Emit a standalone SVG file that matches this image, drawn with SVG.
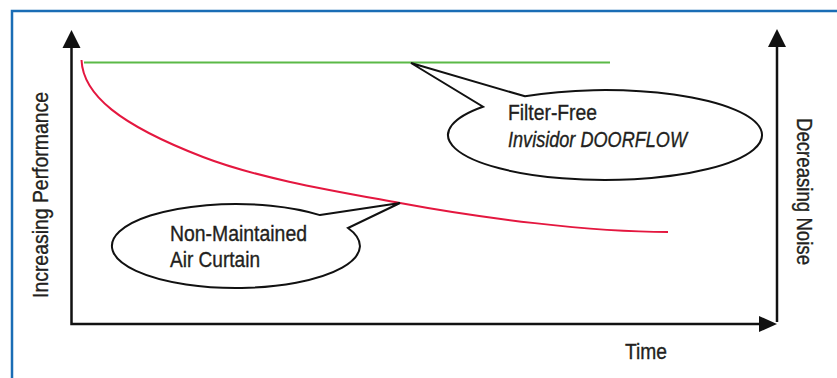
<svg xmlns="http://www.w3.org/2000/svg" width="837" height="378" viewBox="0 0 837 378">
<style>
.axis{stroke:#111;stroke-width:2.5;fill:none}
.head{fill:#111;stroke:none}
.callout{fill:#fff;stroke:#111;stroke-width:2;stroke-linejoin:miter}
.t{font-family:"Liberation Sans Narrow","Liberation Sans",Arial,sans-serif;font-size:22px;fill:#231f20;stroke:#231f20;stroke-width:0.35}
</style>
<rect width="837" height="378" fill="#fff"/>
<path d="M12,378 V11 H837" fill="none" stroke="#1a6db5" stroke-width="2.5"/>
<g id="connectors">
<path class="axis" d="M71.5,46 V324 H761"/>
<polygon class="head" points="71.5,30 62.5,48 80.5,48"/>
<polygon class="head" points="777,324 759,316 759,332"/>
<path class="axis" d="M777,45 V322"/>
<polygon class="head" points="777,29 768,47 786,47"/>
</g>
<g id="green-line"><path d="M84,62.5 H610" stroke="#5bb947" stroke-width="2" fill="none"/></g>
<g id="red-curve"><path d="M81.5,60 C83,95 120,125 203,157 C260,179 340,192 400,203 C480,218 590,232 668,232" stroke="#e4173f" stroke-width="2" fill="none"/></g>
<g id="callout-filter-free">
<path class="callout" d="M525,96.3 L411,63 L483,106.7 A157 45 0 1 0 525,96.3 Z"/>
<text class="t" x="508" y="119.5" textLength="89" lengthAdjust="spacingAndGlyphs">Filter-Free</text>
<text class="t" x="508" y="146.5" font-style="italic" textLength="179" lengthAdjust="spacingAndGlyphs">Invisidor DOORFLOW</text>
</g>
<g id="callout-non-maintained">
<path class="callout" d="M320,215.1 L400,203 L348,228 A124 42 0 1 1 320,215.1 Z"/>
<text class="t" x="170" y="241.3" textLength="137" lengthAdjust="spacingAndGlyphs">Non-Maintained</text>
<text class="t" x="170" y="267.3" textLength="90" lengthAdjust="spacingAndGlyphs">Air Curtain</text>
</g>
<g id="label-performance"><text class="t" transform="translate(48,298) rotate(-90)" textLength="206" lengthAdjust="spacingAndGlyphs">Increasing Performance</text></g>
<g id="label-noise"><text class="t" transform="translate(797,118) rotate(90)" textLength="147" lengthAdjust="spacingAndGlyphs">Decreasing Noise</text></g>
<g id="label-time"><text class="t" x="625" y="359" textLength="42" lengthAdjust="spacingAndGlyphs">Time</text></g>
</svg>
